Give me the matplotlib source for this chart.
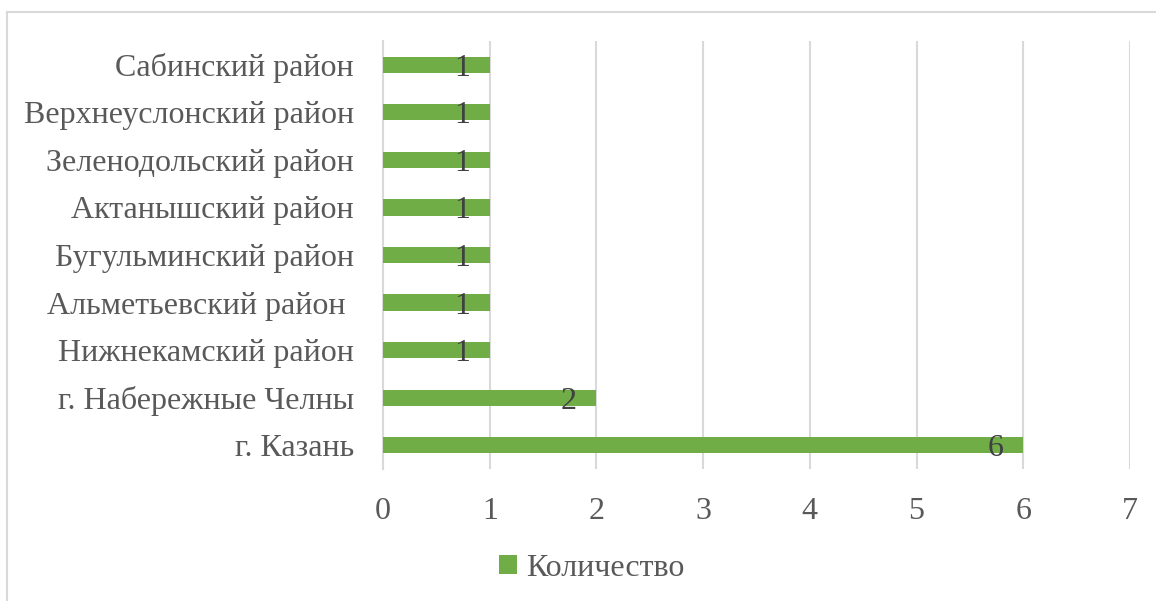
import matplotlib.pyplot as plt
from matplotlib.lines import Line2D

# данные (снизу вверх)
rayony = ["г. Казань", "г. Набережные Челны", "Нижнекамский район",
          "Альметьевский район ", "Бугульминский район", "Актанышский район",
          "Зеленодольский район", "Верхнеуслонский район", "Сабинский район"]
kolichestvo = [6, 2, 1, 1, 1, 1, 1, 1, 1]
x_ticks = [0, 1, 2, 3, 4, 5, 6, 7]

zeleny = "#70AD47"
tekst = "#595959"
setka = "#D9D9D9"

plt.rcParams['font.family'] = ['Liberation Serif', 'DejaVu Serif']

fig = plt.figure(figsize=(11.56, 6.01), dpi=100)
ax = fig.add_axes([383 / 1156, 1 - 469 / 601, (1130 - 383) / 1156, (469 - 41) / 601])

pos = list(range(len(rayony)))
bars = ax.barh(pos, kolichestvo, height=0.34, color=zeleny, label="Количество", zorder=3)

for p, v in zip(pos, kolichestvo):
    ax.annotate(str(v), xy=(v, p), xytext=(-14, -2.5), textcoords="offset points",
                ha="right", va="center", fontsize=23, color="#404040", zorder=4)

ax.set_xlim(0, 7)
ax.set_ylim(-0.5, len(rayony) - 0.5)
ax.set_xticks(x_ticks)
ax.set_yticks(pos)
ax.set_yticklabels(rayony)
ax.tick_params(axis="both", length=0, labelsize=23, labelcolor=tekst)
ax.tick_params(axis="x", pad=20)
ax.tick_params(axis="y", pad=21)
ax.xaxis.grid(True, color=setka, linewidth=1.5, zorder=0)
for s in ["top", "right", "bottom"]:
    ax.spines[s].set_visible(False)
ax.spines["left"].set_color(setka)
ax.spines["left"].set_linewidth(1.5)

leg = fig.legend(handles=[bars], loc="center", bbox_to_anchor=(592 / 1156, 1 - 568 / 601),
                 frameon=False, fontsize=23, handlelength=0.55, handleheight=0.55,
                 handletextpad=0.3, labelcolor=tekst)

# рамка диаграммы
fig.add_artist(Line2D([7 / 1156, 7 / 1156], [0, 1 - 12 / 601], transform=fig.transFigure,
                      color=setka, linewidth=1.5))
fig.add_artist(Line2D([7 / 1156, 1], [1 - 12 / 601, 1 - 12 / 601], transform=fig.transFigure,
                      color=setka, linewidth=1.5))

fig.savefig("out.png", dpi=100, facecolor="white")
